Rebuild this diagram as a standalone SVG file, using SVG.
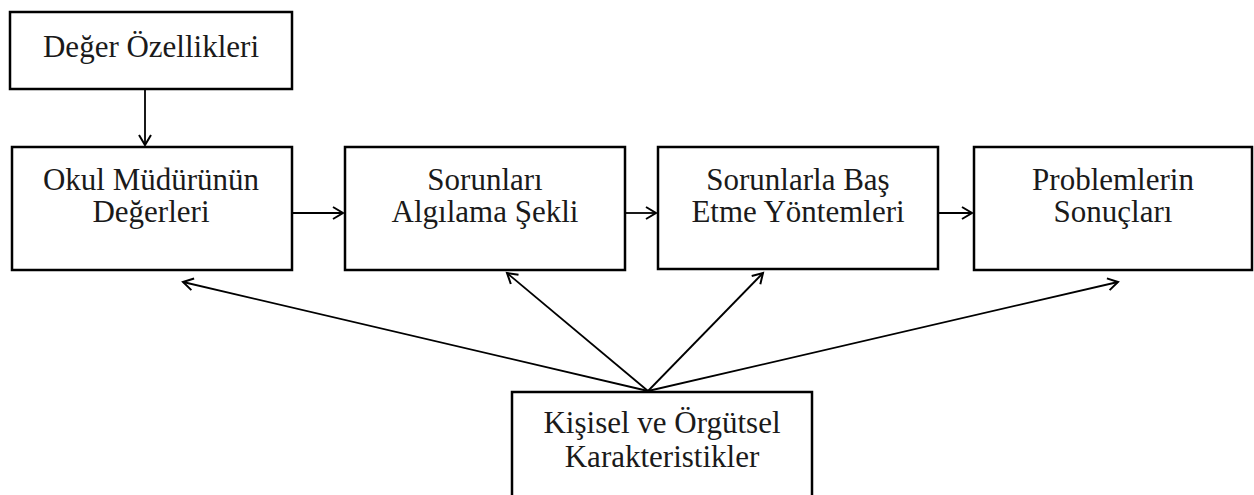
<svg xmlns="http://www.w3.org/2000/svg" width="1254" height="495" viewBox="0 0 1254 495">
<style>
.box{fill:#fff;stroke:#000;stroke-width:2.5}
.t{font-family:'Liberation Serif','Times New Roman',serif;font-size:31px;fill:#1a1a1a;text-anchor:middle}
.c{stroke:#000;stroke-width:1.8;fill:none;marker-end:url(#ah)}
</style>
<defs>
<marker id="ah" markerUnits="userSpaceOnUse" markerWidth="16" markerHeight="16" viewBox="-12 -8 14 16" refX="0" refY="0" orient="auto">
<path d="M-10,-6 L0,0 L-10,6" fill="none" stroke="#000" stroke-width="2"/>
</marker>
</defs>
<rect width="1254" height="495" fill="#fff"/>
<g id="connectors">
<line class="c" x1="145" y1="89" x2="145" y2="145"/>
<line class="c" x1="292" y1="213" x2="343" y2="213"/>
<line class="c" x1="625" y1="213" x2="656" y2="213"/>
<line class="c" x1="938" y1="213" x2="972" y2="213"/>
<line class="c" x1="648" y1="391" x2="183" y2="282"/>
<line class="c" x1="648" y1="391" x2="507" y2="273"/>
<line class="c" x1="648" y1="391" x2="763" y2="273"/>
<line class="c" x1="648" y1="391" x2="1118" y2="282"/>
</g>
<g id="n1">
<rect class="box" x="10" y="12" width="282" height="77"/>
<text class="t" x="151" y="57">Değer Özellikleri</text>
</g>
<g id="n2">
<rect class="box" x="12" y="147" width="280" height="123"/>
<text class="t" x="151" y="190">Okul Müdürünün</text>
<text class="t" x="151" y="222">Değerleri</text>
</g>
<g id="n3">
<rect class="box" x="345" y="147" width="280" height="123"/>
<text class="t" x="485" y="190">Sorunları</text>
<text class="t" x="485" y="222">Algılama Şekli</text>
</g>
<g id="n4">
<rect class="box" x="658" y="147" width="280" height="122"/>
<text class="t" x="798" y="190">Sorunlarla Baş</text>
<text class="t" x="798" y="222">Etme Yöntemleri</text>
</g>
<g id="n5">
<rect class="box" x="974" y="147" width="278" height="123"/>
<text class="t" x="1113" y="190">Problemlerin</text>
<text class="t" x="1113" y="222">Sonuçları</text>
</g>
<g id="n6">
<rect class="box" x="512" y="392" width="300" height="110"/>
<text class="t" x="662" y="433">Kişisel ve Örgütsel</text>
<text class="t" x="662" y="467">Karakteristikler</text>
</g>
</svg>
